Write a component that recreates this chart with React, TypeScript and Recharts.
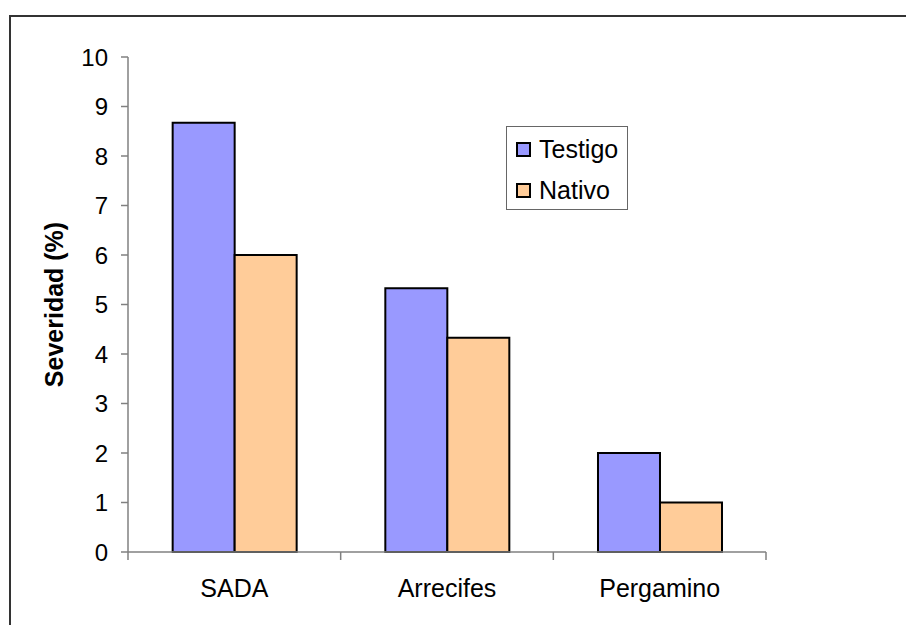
import { Bar, BarChart, XAxis, YAxis } from "recharts"

const sites = ["SADA", "Arrecifes", "Pergamino"]
const testigo = [8.67, 5.33, 2]
const nativo = [6, 4.33, 1]
const yTicks = [0, 1, 2, 3, 4, 5, 6, 7, 8, 9, 10]

const seriesColors = {
  testigo: "#9999FF",
  nativo: "#FFCC99",
}

const data = sites.map((site, i) => ({
  site,
  testigo: testigo[i],
  nativo: nativo[i],
}))

const font = "'Liberation Sans', Arial, sans-serif"
const labelGap = 27

function LegendBox() {
  const items = [
    { label: "Testigo", color: seriesColors.testigo },
    { label: "Nativo", color: seriesColors.nativo },
  ]
  return (
    <div
      style={{
        position: "absolute",
        left: 506,
        top: 126,
        width: 122,
        height: 84,
        boxSizing: "border-box",
        border: "1.5px solid #666",
        background: "#fff",
        paddingTop: 2,
        fontFamily: font,
      }}
    >
      {items.map((item) => (
        <div
          key={item.label}
          style={{ display: "flex", alignItems: "center", height: 41, paddingLeft: 9 }}
        >
          <span
            style={{
              display: "inline-block",
              width: 15,
              height: 15,
              boxSizing: "border-box",
              border: "2px solid #000",
              background: item.color,
              marginRight: 8,
            }}
          />
          <span style={{ fontSize: 25, color: "#000", lineHeight: 1 }}>{item.label}</span>
        </div>
      ))}
    </div>
  )
}

// category label plus tick marks on the band edges (Excel style)
function SiteTick({ x, y, payload, index, visibleTicksCount }: any) {
  const half = payload?.offset ?? 0
  const axisY = y - labelGap
  const last = index === visibleTicksCount - 1
  return (
    <g>
      {half > 0 && (
        <line x1={x - half} x2={x - half} y1={axisY} y2={axisY + 8} stroke="#808080" strokeWidth={1.5} />
      )}
      {half > 0 && last && (
        <line x1={x + half} x2={x + half} y1={axisY} y2={axisY + 8} stroke="#808080" strokeWidth={1.5} />
      )}
      <text x={x} y={y} dy="0.71em" textAnchor="middle" fontFamily={font} fontSize={25} fill="#000">
        {payload.value}
      </text>
    </g>
  )
}

function YLabel({ viewBox }: any) {
  const cx = viewBox.x + 54
  const cy = viewBox.y + viewBox.height / 2
  return (
    <text
      x={cx}
      y={cy}
      transform={`rotate(-90, ${cx}, ${cy})`}
      textAnchor="middle"
      dominantBaseline="central"
      fontFamily={font}
      fontSize={25}
      fontWeight="bold"
      fill="#000"
    >
      Severidad (%)
    </text>
  )
}

export default function App() {
  return (
    <div
      style={{
        position: "absolute",
        left: 0,
        top: 0,
        width: 906,
        height: 625,
        overflow: "hidden",
        background: "#fff",
        fontFamily: font,
      }}
    >
      <div
        style={{
          position: "absolute",
          left: 9,
          top: 15,
          width: 1000,
          height: 800,
          borderLeft: "2px solid #333",
          borderTop: "2px solid #333",
        }}
      />
      <div style={{ position: "absolute", left: 0, top: 0 }}>
        <BarChart
          width={906}
          height={625}
          data={data}
          margin={{ top: 57, right: 140, bottom: 0, left: 0 }}
          barGap={0}
          barCategoryGap="21%"
        >
          <XAxis
            dataKey="site"
            height={73}
            axisLine={{ stroke: "#808080", strokeWidth: 1.5 }}
            tickLine={false}
            tickSize={0}
            tickMargin={labelGap}
            interval={0}
            tick={<SiteTick />}
          />
          <YAxis
            width={128}
            domain={[0, 10]}
            ticks={yTicks}
            interval={0}
            tickSize={7}
            tickMargin={13}
            axisLine={{ stroke: "#808080", strokeWidth: 1.5 }}
            tickLine={{ stroke: "#808080", strokeWidth: 1.5 }}
            tick={{ fontSize: 24, fill: "#000", fontFamily: font }}
            label={<YLabel />}
          />
          <Bar
            dataKey="testigo"
            name="Testigo"
            fill={seriesColors.testigo}
            stroke="#000"
            strokeWidth={2}
            isAnimationActive={false}
          />
          <Bar
            dataKey="nativo"
            name="Nativo"
            fill={seriesColors.nativo}
            stroke="#000"
            strokeWidth={2}
            isAnimationActive={false}
          />
        </BarChart>
      </div>
      <LegendBox />
    </div>
  )
}
